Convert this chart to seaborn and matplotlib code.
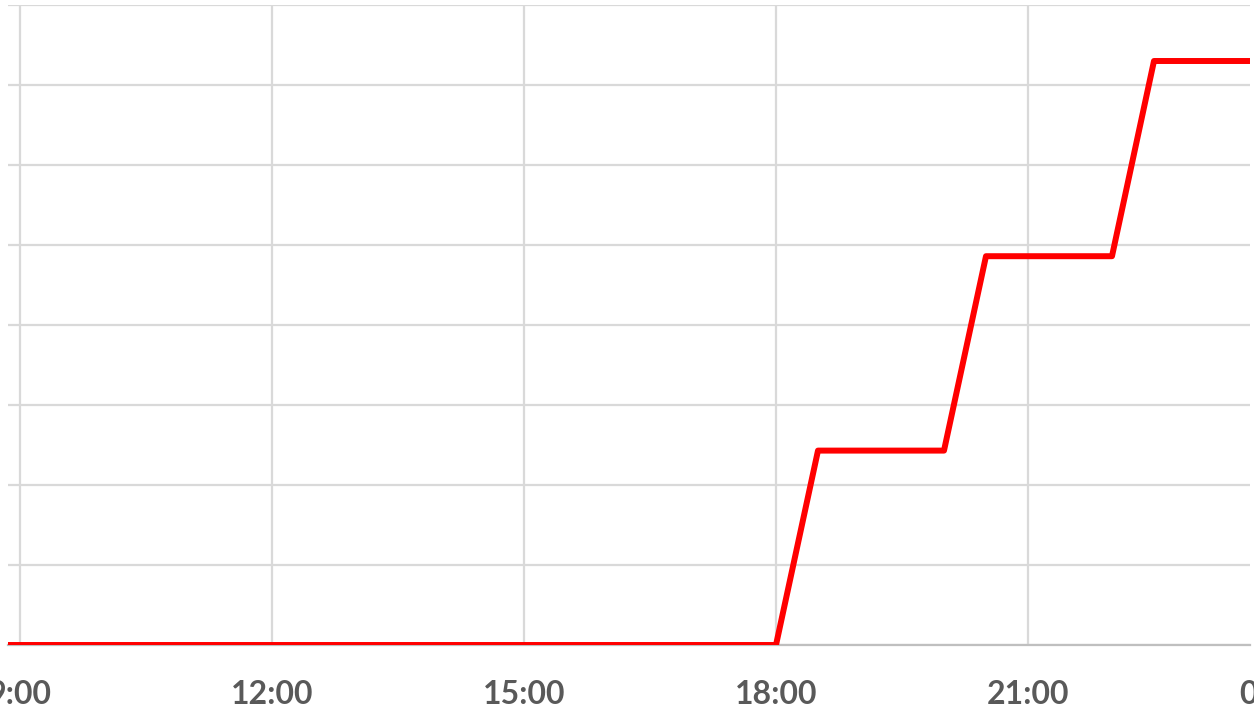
import pandas as pd
import matplotlib.pyplot as plt
import matplotlib.transforms as mtransforms
import seaborn as sns

# hours of the day (decimal) and the cumulative value at each step corner
hours = [8.857, 18.0, 18.5, 20.0, 20.5, 22.0, 22.5, 23.643]
values = [0.0, 0.0, 2.43, 2.43, 4.86, 4.86, 7.30, 7.30]
tick_hours = [9, 12, 15, 18, 21, 24]
tick_labels = ["9:00", "12:00", "15:00", "18:00", "21:00", "00:00"]

df = pd.DataFrame({"hour": hours, "value": values})

sns.set_style("white")
plt.rcParams["font.family"] = ["Lato", "DejaVu Sans"]

W, H = 1254, 718
fig = plt.figure(figsize=(W / 100, H / 100), dpi=100)
ax = fig.add_axes([8 / W, (H - 645) / H, (1250 - 8) / W, (645 - 5) / H])

sns.lineplot(data=df, x="hour", y="value", ax=ax, color="#ff0000",
             linewidth=4.3, zorder=3)

ax.set_xlim(hours[0], hours[-1])
ax.set_ylim(0, 8)
ax.set_yticks(range(0, 9))
ax.set_yticklabels([])
ax.set_xticks(tick_hours[:-1])
ax.set_xticklabels(tick_labels[:-1])
ax.tick_params(axis="x", length=0, pad=25.5, labelsize=23, labelcolor="#595959")
ax.tick_params(axis="y", length=0)
for lab in ax.get_xticklabels():
    lab.set_fontweight("bold")

# last tick falls just past the plot edge, draw its label by hand
trans = mtransforms.blended_transform_factory(ax.transData, ax.transAxes)
ax.annotate(tick_labels[-1], xy=(tick_hours[-1], 0), xycoords=trans,
            xytext=(0, -25.5), textcoords="offset points", ha="center", va="top",
            fontsize=23, fontweight="bold", color="#595959", annotation_clip=False)

ax.grid(True, color="#d9d9d9", linewidth=1.6)
ax.set_axisbelow(True)
for side in ["top", "right", "left"]:
    ax.spines[side].set_visible(False)
ax.spines["bottom"].set_color("#bfbfbf")
ax.spines["bottom"].set_linewidth(1.6)
ax.set_xlabel("")
ax.set_ylabel("")

fig.savefig("out.png", dpi=100)
